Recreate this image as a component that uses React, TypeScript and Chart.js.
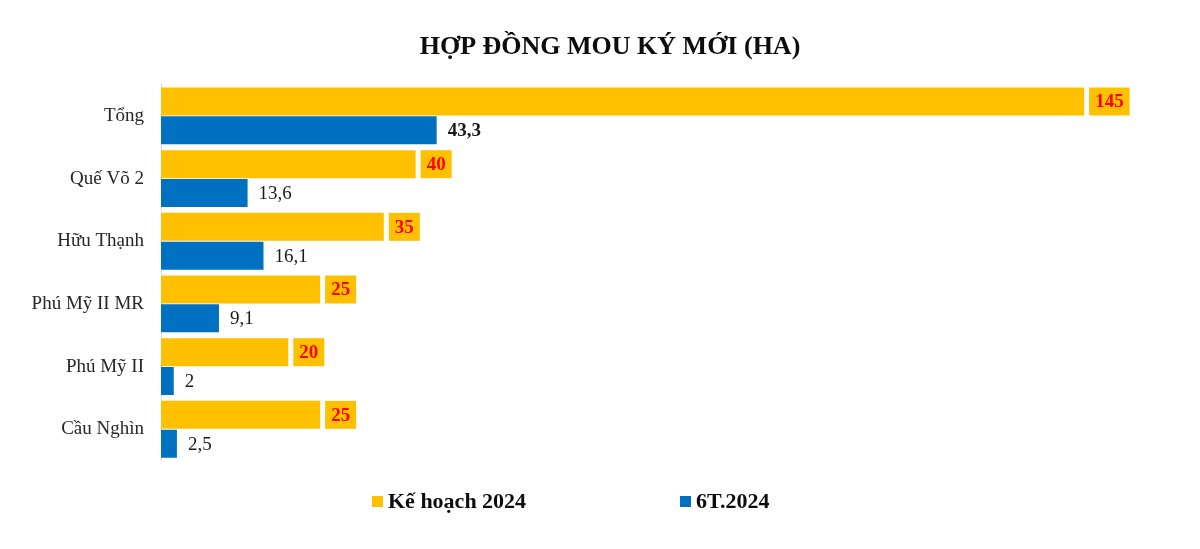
import React, { useEffect, useRef } from "react";
import { Chart, registerables } from "chart.js";

Chart.register(...registerables);

const categories = ["Tổng", "Quế Võ 2", "Hữu Thạnh", "Phú Mỹ II MR", "Phú Mỹ II", "Cầu Nghìn"];
const planLabel = "Kế hoạch 2024";
const actualLabel = "6T.2024";
const planValues = [145, 40, 35, 25, 20, 25];
const actualValues = [43.3, 13.6, 16.1, 9.1, 2, 2.5];
const titleText = "HỢP ĐỒNG MOU KÝ MỚI (HA)";

const YELLOW = "#FFC000";
const BLUE = "#0070C0";
const RED = "#FF0000";
const FONT = "'Liberation Serif', 'DejaVu Serif', serif";

const fmt = (v: number) => String(v).replace(".", ",");

const labelPlugin = {
  id: "barLabels",
  afterDatasetsDraw(chart: any) {
    const ctx = chart.ctx;
    ctx.save();
    const m0 = chart.getDatasetMeta(0);
    m0.data.forEach((bar: any, i: number) => {
      const txt = fmt(planValues[i]);
      ctx.font = `bold 19px ${FONT}`;
      const tw = ctx.measureText(txt).width;
      const bw = tw + 12;
      const bh = bar.height;
      const x0 = bar.x + 5;
      ctx.fillStyle = YELLOW;
      ctx.fillRect(x0, bar.y - bh / 2, bw, bh);
      ctx.fillStyle = RED;
      ctx.textAlign = "left";
      ctx.textBaseline = "middle";
      ctx.fillText(txt, x0 + 6, bar.y + 1);
    });
    const m1 = chart.getDatasetMeta(1);
    m1.data.forEach((bar: any, i: number) => {
      const txt = fmt(actualValues[i]);
      ctx.font = `${i === 0 ? "bold " : ""}19px ${FONT}`;
      ctx.fillStyle = "#1a1a1a";
      ctx.textAlign = "left";
      ctx.textBaseline = "middle";
      ctx.fillText(txt, bar.x + 11, bar.y + 1);
    });
    ctx.restore();
  },
};

const legendPlugin = {
  id: "customLegend",
  afterDraw(chart: any) {
    const ctx = chart.ctx;
    ctx.save();
    const items = [
      { text: planLabel, color: YELLOW, x: 372 },
      { text: actualLabel, color: BLUE, x: 680 },
    ];
    ctx.font = `bold 22px ${FONT}`;
    ctx.textAlign = "left";
    ctx.textBaseline = "middle";
    items.forEach((it) => {
      ctx.fillStyle = it.color;
      ctx.fillRect(it.x, 496, 11, 11);
      ctx.fillStyle = "#0d0d0d";
      ctx.fillText(it.text, it.x + 16, 502);
    });
    ctx.restore();
  },
};

export default function App() {
  const ref = useRef<HTMLCanvasElement | null>(null);
  useEffect(() => {
    if (!ref.current) return;
    const chart = new Chart(ref.current, {
      type: "bar",
      data: {
        labels: categories,
        datasets: [
          {
            label: planLabel,
            data: planValues,
            backgroundColor: YELLOW,
            categoryPercentage: 0.92,
            barPercentage: 0.97,
          },
          {
            label: actualLabel,
            data: actualValues,
            backgroundColor: BLUE,
            categoryPercentage: 0.92,
            barPercentage: 0.97,
          },
        ],
      },
      options: {
        indexAxis: "y",
        animation: false,
        responsive: true,
        maintainAspectRatio: false,
        layout: { padding: { left: 20, right: 0, top: 0, bottom: 88.4 } },
        scales: {
          x: { display: false, min: 0, max: 163.2 },
          y: {
            grid: { display: false, drawTicks: false },
            border: { display: true, color: "#d9d9d9", width: 1 },
            ticks: {
              padding: 17,
              color: "#262626",
              font: { family: FONT, size: 19 },
            },
            afterFit(scale: any) {
              scale.width = 141;
            },
          },
        },
        plugins: {
          legend: { display: false },
          tooltip: { enabled: false },
          title: {
            display: true,
            text: titleText,
            color: "#0d0d0d",
            font: { family: FONT, size: 26, weight: "bold", lineHeight: 1.2 },
            padding: { top: 32, bottom: 21.4 },
          },
        },
      },
      plugins: [labelPlugin, legendPlugin],
    });
    return () => chart.destroy();
  }, []);
  return (
    <div style={{ position: "fixed", left: 0, top: 0, width: 1200, height: 549, background: "#fff" }}>
      <canvas ref={ref} />
    </div>
  );
}
